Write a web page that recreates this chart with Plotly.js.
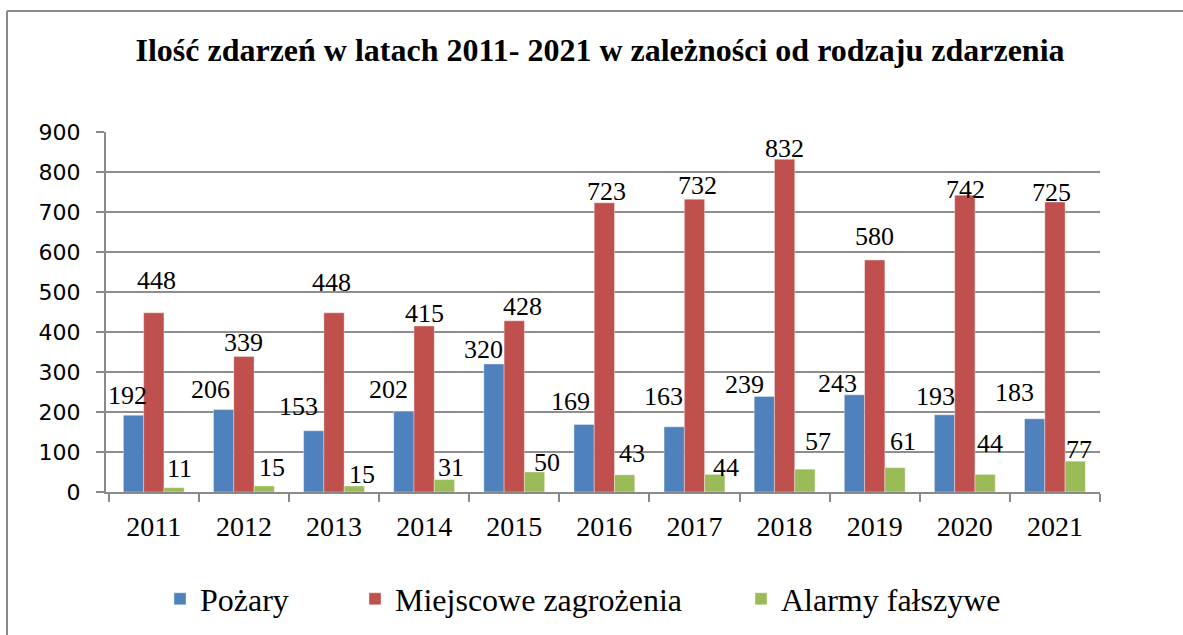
<!DOCTYPE html>
<html>
<head>
<meta charset="utf-8">
<script src="https://cdn.plot.ly/plotly-3.0.1.min.js"></script>
<style>html,body{margin:0;padding:0;background:#fff;}#chart{width:1183px;height:635px;}</style>
</head>
<body>
<div id="chart"></div>
<script>
// ---- data ----
var years = ['2011','2012','2013','2014','2015','2016','2017','2018','2019','2020','2021'];
var pozary = [192, 206, 153, 202, 320, 169, 163, 239, 243, 193, 183];
var miejscowe = [448, 339, 448, 415, 428, 723, 732, 832, 580, 742, 725];
var alarmy = [11, 15, 15, 31, 50, 43, 44, 57, 61, 44, 77];
var seriesNames = ['Pożary', 'Miejscowe zagrożenia', 'Alarmy fałszywe'];

// ---- styling ----
var colors = ['#4F81BD', '#C0504D', '#9BBB59'];
var serif = 'Liberation Serif, Times New Roman, serif';
var sans = 'DejaVu Sans, Verdana, sans-serif';
// label offsets (px) relative to top-centre of each bar (manual label placement as in source)
var labelDx = [
  [-6, -13, -15, -15, -10, -14, -11, -20, -17, -9, -20],
  [3, 0, -3, 0, 8, 2, 3, 0, 0, 1, -3],
  [5, 8, 8, 7, 12, 7, 11, 13, 8, 5, 4]
];
var labelDy = [
  [20, 20, 24, 22, 15, 23, 30, 12, 11, 18, 26],
  [32, 14, 30, 13, 14, 11, 14, 11, 24, 6, 10],
  [19, 19, 12, 12, 10, 21, 7, 28, 26, 31, 12]
];
var groupOffset = [-20.3, 0, 20.3];
var legendIds = ['legend', 'legend2', 'legend3'];

var seriesValues = [pozary, miejscowe, alarmy];
var traces = [];
seriesValues.forEach(function (vals, s) {
  traces.push({
    type: 'bar', x: years, y: vals, name: seriesNames[s],
    marker: {color: colors[s], line: {color: 'rgba(255,255,255,0.6)', width: 0.6}},
    legend: legendIds[s], showlegend: true, hoverinfo: 'x+y'
  });
});

var annotations = [];
seriesValues.forEach(function (vals, s) {
  vals.forEach(function (v, i) {
    annotations.push({
      x: i, y: v, xref: 'x', yref: 'y', text: String(v), showarrow: false,
      xanchor: 'center', yanchor: 'middle',
      xshift: groupOffset[s] + labelDx[s][i], yshift: labelDy[s][i],
      font: {family: serif, size: 26, color: '#000'}
    });
  });
});

var W = 1183, H = 635;
var PT = 132, PB = 492; // plot area top/bottom in px
function px2x(px) { return (px - 106) / 994; }
function py2y(py) { return (PB - py) / (PB - PT); }
var borderColor = '#8a8a8a';
var shapes = [
  {type: 'line', xref: 'paper', yref: 'paper', x0: px2x(7), x1: px2x(1190), y0: py2y(11), y1: py2y(11), line: {color: borderColor, width: 2}},
  {type: 'line', xref: 'paper', yref: 'paper', x0: px2x(7), x1: px2x(7), y0: py2y(11), y1: py2y(640), line: {color: borderColor, width: 2}}
];

var legendFont = {family: serif, size: 32, color: '#000'};
function legendAt(px) {
  return {orientation: 'h', xref: 'container', yref: 'container', x: px / W, xanchor: 'left',
    y: 1 - 599 / H, yanchor: 'middle',
    font: legendFont, bgcolor: 'rgba(0,0,0,0)', borderwidth: 0};
}

var layout = {
  width: W, height: H,
  margin: {l: 106, r: 83, t: PT, b: H - PB, pad: 0, autoexpand: false},
  paper_bgcolor: '#fff', plot_bgcolor: '#fff',
  title: {text: '<b>Ilość zdarzeń w latach 2011- 2021 w zależności od rodzaju zdarzenia</b>',
    font: {family: serif, size: 32, color: '#000'}, x: 600 / W, xanchor: 'center', y: 1 - 50 / H, yanchor: 'middle'},
  barmode: 'group', bargap: 0.325, bargroupgap: 0,
  xaxis: {
    type: 'category', tickson: 'boundaries', ticks: 'outside', ticklen: 8, tickwidth: 2, tickcolor: '#8a8a8a',
    showline: true, linecolor: '#8a8a8a', linewidth: 2, showgrid: false, tickangle: 0,
    tickfont: {family: serif, size: 28, color: '#000'}, ticklabelstandoff: 8, fixedrange: true
  },
  yaxis: {
    range: [0, 900], dtick: 100, tick0: 0, ticks: 'outside', ticklen: 8, tickwidth: 2, tickcolor: '#8a8a8a',
    showline: true, linecolor: '#8a8a8a', linewidth: 2, showgrid: true, gridcolor: '#8e8e8e', gridwidth: 2,
    zeroline: false, tickfont: {family: sans, size: 22, color: '#000'}, ticklabelstandoff: 11, fixedrange: true
  },
  legend: legendAt(160),
  legend2: legendAt(355),
  legend3: legendAt(741),
  annotations: annotations,
  shapes: shapes,
  showlegend: true
};

Plotly.newPlot('chart', traces, layout, {displayModeBar: false, staticPlot: true});
</script>
</body>
</html>
